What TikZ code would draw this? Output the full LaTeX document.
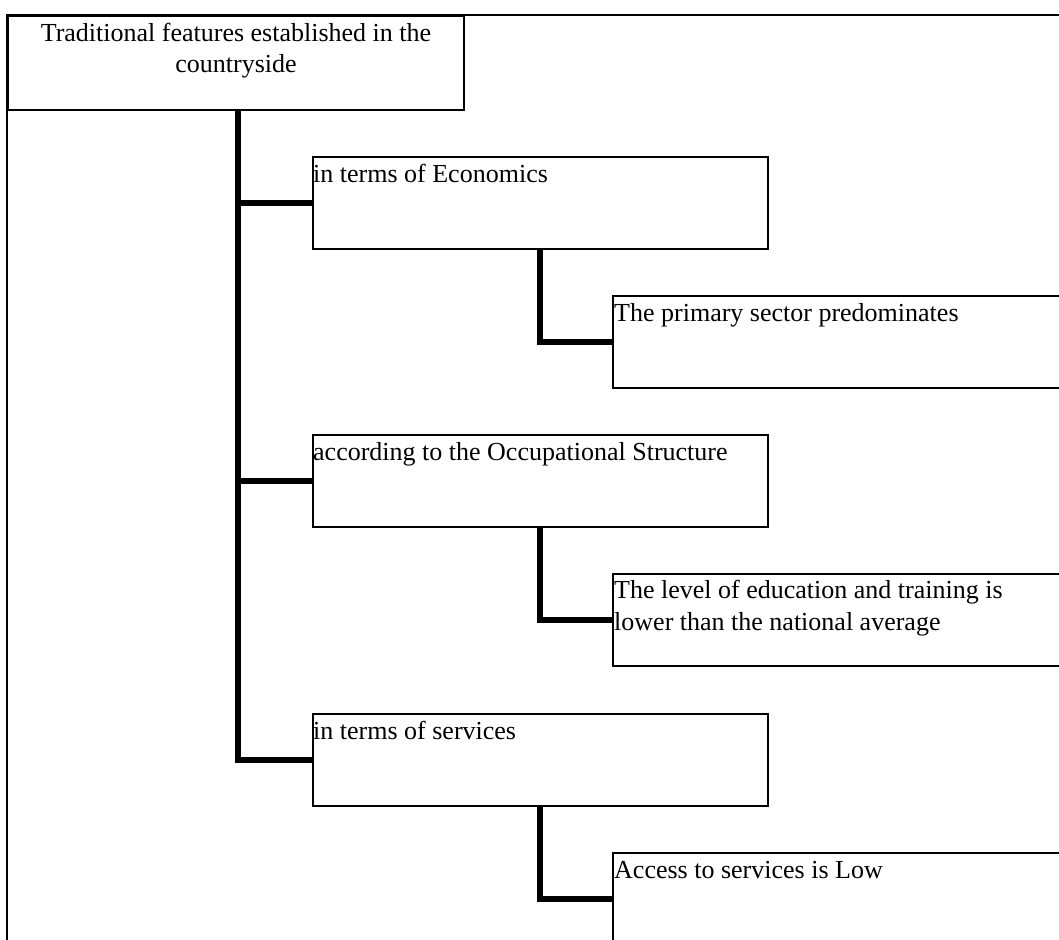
\documentclass[tikz,border=0pt]{standalone}
\usepackage{fontspec}
\setmainfont{Liberation Serif}
\begin{document}
\begin{tikzpicture}[x=1pt,y=-1pt,
  frame/.style={draw, line width=1.6pt},
  box/.style={draw, line width=1.6pt, minimum width=455pt, minimum height=92pt, anchor=north west, inner sep=0pt},
  leaf/.style={draw, line width=1.6pt, minimum width=520pt, minimum height=92pt, anchor=north west, inner sep=0pt},
  txt/.style={anchor=base west, inner sep=0pt, font=\fontsize{26}{32}\selectfont},
  ctxt/.style={anchor=base, inner sep=0pt, font=\fontsize{26}{32}\selectfont},
  conn/.style={line width=6pt}]
\useasboundingbox (0,0) rectangle (1059,939);
\clip (0,0) rectangle (1059,939);
\fill[white] (0,0) rectangle (1059,939);
% outer frame
\draw[frame] (7,1000) -- (7,15) -- (1100,15);
% root
\node[draw, line width=1.6pt, anchor=north west, minimum width=456pt, minimum height=94pt, inner sep=0pt] (root) at (7,15) {};
\node[ctxt] (rootl1) at (236,42) {Traditional features established in the};
\node[ctxt] (rootl2) at (236,73) {countryside};
% level 1
\node[box] (eco) at (312,156) {};
\node[txt] (ecot) at (313,182) {in terms of Economics};
\node[box] (occ) at (312,434) {};
\node[txt] (occt) at (313,460) {according to the Occupational Structure};
\node[box] (srv) at (312,713) {};
\node[txt] (srvt) at (313,739) {in terms of services};
% leaves
\node[leaf] (ecoL) at (612,295) {};
\node[txt] (ecoLt) at (614,321) {The primary sector predominates};
\node[leaf] (occL) at (612,573) {};
\node[txt] (occLt1) at (614,598) {The level of education and training is};
\node[txt] (occLt2) at (614,630) {lower than the national average};
\node[leaf] (srvL) at (612,852) {};
\node[txt] (srvLt) at (614,878) {Access to services is Low};
% connectors
\coordinate (trunk) at ([xshift=2pt]root.south);
\draw[conn] (trunk) |- (srv.west);
\draw[conn] (trunk) |- (eco.west);
\draw[conn] (trunk) |- (occ.west);
\draw[conn] (eco.south) |- (ecoL.west);
\draw[conn] (occ.south) |- (occL.west);
\draw[conn] (srv.south) |- (srvL.west);
\end{tikzpicture}
\end{document}
